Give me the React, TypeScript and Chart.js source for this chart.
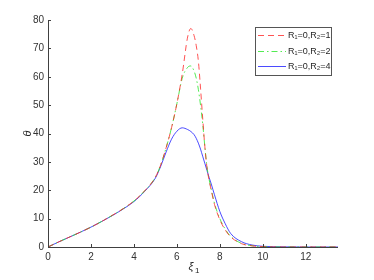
import React, { useEffect, useRef } from 'react';
import { Chart, registerables } from 'chart.js';

Chart.register(...registerables);

// xi_1 sample positions
const xValues = [0, 0.5, 1, 1.5, 2, 2.5, 3, 3.5, 4, 4.5, 5, 5.25, 5.5, 5.75, 6, 6.25, 6.5, 6.65, 6.8, 6.9, 7, 7.1, 7.2, 7.3, 7.4, 7.5, 7.6, 7.75, 8, 8.25, 8.5, 9, 9.5, 10, 11, 12, 13.5];
// theta for R1=0, R2=1
const thetaR2_1 = [0, 1.8, 3.5, 5.2, 7, 9, 11.2, 13.5, 16.2, 19.8, 24.6, 29, 35, 42, 50.5, 61, 74, 77, 74.5, 71, 65.5, 56, 45.5, 35.5, 28, 23.5, 20, 15, 9.6, 6, 3.6, 1.2, 0.4, 0.12, 0, 0, 0];
// theta for R1=0, R2=2
const thetaR2_2 = [0, 1.8, 3.5, 5.2, 7, 9, 11.2, 13.5, 16.2, 19.8, 24.6, 29, 35, 42, 50.5, 59.5, 63.3, 63.8, 62, 59.5, 55.5, 50, 43.5, 35.5, 28.3, 23.8, 20.3, 15.4, 10, 6.3, 3.8, 1.3, 0.45, 0.15, 0, 0, 0];
// theta for R1=0, R2=4
const thetaR2_4 = [0, 1.8, 3.5, 5.2, 7, 9, 11.1, 13.4, 16, 19.6, 24.3, 28.5, 33.5, 38, 40.8, 42, 41.4, 40.7, 39.6, 38.3, 36.6, 34.5, 32, 29.5, 27, 24.5, 22.2, 18.4, 12.5, 8.2, 4.8, 1.9, 0.7, 0.25, 0.05, 0, 0];

const legendLabels = ['R\u2081=0,R\u2082=1', 'R\u2081=0,R\u2082=2', 'R\u2081=0,R\u2082=4'];
const seriesColors = ['rgba(255,40,40,0.8)', 'rgba(40,230,40,0.8)', 'rgba(30,30,255,0.8)'];
const seriesDashes = [[6, 4], [6, 3, 1.5, 3], []];
const xLabel = '\u03BE';
const xLabelSub = '1';
const yLabel = '\u03B8';
const xMin = 0, xMax = 13.5, xStep = 2;
const yMin = 0, yMax = 80, yStep = 10;

const FONT = '"Liberation Sans", Arial, sans-serif';

const decorPlugin = {
  id: 'decor',
  afterDraw(chart: any) {
    const { ctx, chartArea, scales } = chart;
    const { left, right, top, bottom } = chartArea;
    const xs = scales.x, ys = scales.y;
    ctx.save();
    // axes
    ctx.strokeStyle = '#404040';
    ctx.lineWidth = 1;
    ctx.setLineDash([]);
    ctx.beginPath();
    ctx.moveTo(left + 0.5, top);
    ctx.lineTo(left + 0.5, bottom + 0.5);
    ctx.lineTo(right, bottom + 0.5);
    xs.ticks.forEach((t: any) => {
      const px = Math.round(xs.getPixelForValue(t.value)) + 0.5;
      ctx.moveTo(px, bottom);
      ctx.lineTo(px, bottom - 3);
    });
    ys.ticks.forEach((t: any) => {
      const py = Math.round(ys.getPixelForValue(t.value)) + 0.5;
      ctx.moveTo(left, py);
      ctx.lineTo(left + 3, py);
    });
    ctx.stroke();

    // axis titles
    ctx.fillStyle = '#262626';
    ctx.font = 'italic 11px ' + FONT;
    ctx.textAlign = 'center';
    ctx.textBaseline = 'middle';
    ctx.save();
    ctx.translate(28, (top + bottom) / 2);
    ctx.rotate(-Math.PI / 2);
    ctx.fillText(yLabel, 0, 0);
    ctx.restore();
    const cx = (left + right) / 2;
    ctx.font = 'italic 11px ' + FONT;
    ctx.textAlign = 'center';
    ctx.fillText(xLabel, cx - 2, 267);
    ctx.font = '8px ' + FONT;
    ctx.textAlign = 'left';
    ctx.fillText(xLabelSub, cx + 2, 271);

    // legend
    const bx = 255.5, by = 27.5, bw = 76, bh = 48;
    ctx.fillStyle = '#ffffff';
    ctx.fillRect(bx, by, bw, bh);
    ctx.strokeStyle = '#555555';
    ctx.lineWidth = 1;
    ctx.strokeRect(bx, by, bw, bh);
    const rowY = [35.5, 51.5, 66.5];
    legendLabels.forEach((lab, i) => {
      ctx.strokeStyle = seriesColors[i];
      ctx.setLineDash(seriesDashes[i]);
      ctx.beginPath();
      ctx.moveTo(258, rowY[i]);
      ctx.lineTo(286, rowY[i]);
      ctx.stroke();
      ctx.setLineDash([]);
      ctx.fillStyle = '#262626';
      ctx.font = '9px ' + FONT;
      ctx.textAlign = 'left';
      ctx.textBaseline = 'middle';
      ctx.fillText(lab, 288, rowY[i]);
    });
    ctx.restore();
  },
};

export default function App() {
  const ref = useRef<HTMLCanvasElement | null>(null);
  useEffect(() => {
    if (!ref.current) return;
    const series = [thetaR2_1, thetaR2_2, thetaR2_4];
    const chart = new Chart(ref.current, {
      type: 'line',
      data: {
        datasets: series.map((s, i) => ({
          label: legendLabels[i],
          data: xValues.map((x, j) => ({ x, y: s[j] })),
          borderColor: seriesColors[i],
          borderWidth: 1,
          borderDash: seriesDashes[i],
          pointRadius: 0,
          cubicInterpolationMode: 'monotone' as const,
          fill: false,
          clip: 3,
        })),
      },
      options: {
        responsive: false,
        animation: false,
        layout: { padding: { left: 0, right: 36, top: 20, bottom: 0 } },
        plugins: { legend: { display: false }, tooltip: { enabled: false } },
        scales: {
          x: {
            type: 'linear',
            min: xMin,
            max: xMax,
            grid: { display: false, drawTicks: false },
            border: { display: false },
            ticks: { stepSize: xStep, includeBounds: false, padding: 4, color: '#333', font: { family: FONT, size: 10 } },
            afterFit: (s: any) => { s.height = 33; },
          },
          y: {
            type: 'linear',
            min: yMin,
            max: yMax,
            grid: { display: false, drawTicks: false },
            border: { display: false },
            ticks: { stepSize: yStep, padding: 4, color: '#333', font: { family: FONT, size: 10 } },
            afterFit: (s: any) => { s.width = 48; },
          },
        },
      },
      plugins: [decorPlugin],
    } as any);
    return () => chart.destroy();
  }, []);
  return (
    <div style={{ position: 'absolute', left: 0, top: 0, width: 374, height: 280, background: '#fff' }}>
      <canvas ref={ref} width={374} height={280} />
    </div>
  );
}
